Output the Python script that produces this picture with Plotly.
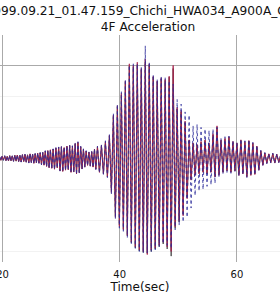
import plotly.graph_objects as go

# Extremum times (s)
t = [19.50, 19.72, 19.93, 20.15, 20.37, 20.58, 20.80, 21.02, 21.23, 21.45,
     21.67, 21.88, 22.10, 22.32, 22.53, 22.75, 22.97, 23.18, 23.40, 23.62,
     23.83, 24.05, 24.27, 24.48, 24.70, 24.92, 25.13, 25.35, 25.57, 25.78,
     26.00, 26.22, 26.43, 26.65, 26.87, 27.08, 27.30, 27.52, 27.73, 27.95,
     28.17, 28.40, 28.64, 28.87, 29.11, 29.34, 29.58, 29.81, 30.05, 30.28,
     30.52, 30.75, 30.99, 31.22, 31.46, 31.69, 31.93, 32.16, 32.40, 32.63,
     32.87, 33.10, 33.34, 33.57, 33.81, 34.04, 34.28, 34.51, 34.75, 34.98,
     35.22, 35.45, 35.69, 35.92,
     36.20, 36.54, 36.88, 37.22, 37.56, 37.90, 38.24, 38.58, 38.92, 39.26,
     39.60, 39.94, 40.28, 40.62, 40.96, 41.30, 41.64, 41.98, 42.32, 42.66,
     43.00, 43.34, 43.68, 44.02, 44.36, 44.70, 45.04, 45.38, 45.72, 46.06,
     46.40, 46.74, 47.08, 47.42, 47.76, 48.10, 48.44, 48.78, 49.12, 49.46,
     49.80, 50.14, 50.48, 50.82, 51.16, 51.50, 51.84, 52.18, 52.52, 52.86,
     53.20, 53.54, 53.88, 54.22, 54.56, 54.90, 55.24, 55.58, 55.92, 56.26,
     56.60, 56.94, 57.28, 57.62, 57.96, 58.30, 58.64, 58.98, 59.32, 59.66,
     60.00, 60.34, 60.68, 61.02, 61.36, 61.70, 62.04, 62.38, 62.72, 63.06,
     63.40, 63.74, 64.08, 64.42, 64.76, 65.10, 65.44, 65.78, 66.12, 66.46,
     66.80, 67.14, 67.48]

# Acceleration extrema (gal) - three overlaid records
acc_blue = [6, -7, 8, -6, 9, -8, 7, -9, 10, -8,
            9, -10, 11, -9, 12, -11, 10, -12, 13, -11,
            14, -13, 12, -15, 16, -14, 15, -17, 16, -15,
            18, -16, 19, -21, 20, -23, 25, -27, 26, -31,
            29, -33, 31, -36, 35, -31, 37, -41, 39, -43,
            36, -39, 41, -37, 43, -46, 41, -45, 50, -52,
            54, -48, 40, -35, 31, -29, 25, -23, 21, -26,
            23, -29, 31, -36,
            40, -47, 44, -52, 57, -62, 78, -115, 145, -195,
            175, -225, 215, -235, 255, -255, 300, -275, 305, -290,
            305, -300, 295, -305, 363, -305, 311, -300, 270, -295,
            255, -285, 265, -275, 260, -280, 250, -290, 240, -230,
            190, -215, 175, -205, 150, -190, 140, -160, 105, -120,
            110, -105, 100, -100, 95, -90, 90, -85, 95, -80,
            100, -60, 65, -50, 70, -45, 72, -48, 58, -42,
            52, -57, 62, -52, 57, -62, 60, -56, 52, -53,
            42, -40, 27, -23, 19, -17, 16, -15, 17, -16,
            15, -14, 13]

acc_red = [5, -6, 7, -5, 8, -7, 6, -8, 9, -7,
           8, -9, 10, -8, 11, -10, 9, -11, 12, -10,
           13, -12, 11, -14, 15, -13, 14, -16, 15, -14,
           17, -15, 18, -20, 19, -22, 24, -26, 25, -30,
           28, -32, 30, -35, 34, -30, 36, -40, 38, -42,
           35, -38, 40, -36, 42, -45, 40, -44, 48, -50,
           52, -46, 38, -34, 30, -28, 24, -22, 20, -25,
           22, -28, 30, -35,
           38, -45, 42, -50, 55, -60, 75, -110, 140, -190,
           170, -220, 210, -230, 250, -250, 305, -270, 300, -285,
           310, -295, 290, -300, 320, -310, 305, -295, 265, -290,
           250, -280, 260, -270, 255, -285, 265, -300, 300, -220,
           165, -200, 155, -185, 120, -130, 60, -70, 50, -55,
           45, -50, 55, -45, 60, -50, 50, -45, 80, -60,
           105, -55, 60, -45, 65, -40, 70, -45, 55, -40,
           50, -55, 60, -50, 55, -60, 58, -55, 50, -52,
           40, -38, 25, -22, 18, -16, 15, -14, 16, -15,
           14, -13, 12]

acc_gray = [5, -6, 6, -6, 8, -7, 7, -8, 9, -8,
            8, -9, 10, -9, 11, -10, 10, -11, 12, -10,
            12, -12, 12, -14, 14, -13, 14, -15, 15, -14,
            16, -15, 18, -19, 19, -21, 23, -25, 25, -29,
            27, -31, 30, -34, 33, -30, 35, -39, 37, -41,
            34, -37, 39, -36, 41, -44, 40, -43, 47, -49,
            50, -45, 37, -33, 29, -27, 23, -22, 20, -24,
            21, -27, 29, -34,
            37, -44, 41, -49, 53, -58, 72, -105, 135, -185,
            165, -215, 205, -228, 245, -248, 298, -272, 296, -288,
            302, -298, 286, -303, 312, -306, 300, -300, 262, -292,
            248, -284, 256, -276, 252, -292, 262, -315, 290, -225,
            160, -205, 150, -180, 115, -125, 58, -68, 48, -52,
            44, -48, 52, -44, 58, -48, 48, -44, 76, -58,
            100, -52, 58, -44, 62, -40, 68, -44, 52, -40,
            48, -52, 58, -48, 52, -58, 56, -52, 48, -50,
            38, -36, 24, -21, 17, -15, 14, -13, 15, -14,
            13, -12, 11]

x_ticks = [20, 40, 60]
y_major = [300]
y_minor = [-300, -200, -100, 0, 100, 200, 300]

FONT = "DejaVu Sans"

fig = go.Figure()
fig.add_trace(go.Scatter(x=t, y=acc_gray, mode="lines",
                         line=dict(color="#555555", width=1), showlegend=False))
fig.add_trace(go.Scatter(x=t, y=acc_red, mode="lines",
                         line=dict(color="#a81c48", width=1), opacity=0.9,
                         showlegend=False))
fig.add_trace(go.Scatter(x=t, y=acc_blue, mode="lines",
                         line=dict(color="#2a2a9a", width=1, dash="dot"),
                         opacity=0.85, showlegend=False))

fig.update_layout(
    width=280, height=300,
    margin=dict(l=0, r=0, t=35, b=38),
    paper_bgcolor="white", plot_bgcolor="white",
    font=dict(family=FONT, size=12, color="#111111"),
    title=dict(text="1999.09.21_01.47.159_Chichi_HWA034_A900A_CH10<br>4F Acceleration",
               x=148 / 280, xanchor="center", y=0.951, yanchor="top",
               font=dict(family=FONT, size=12.2, color="#111111")),
    xaxis=dict(range=[19.57, 67.35], tickmode="array", tickvals=x_ticks,
               showgrid=True, gridcolor="#aaaaaa", gridwidth=1,
               zeroline=False, showline=False, ticks="",
               ticklabeloverflow="allow", ticklabelstandoff=5,
               tickfont=dict(family=FONT, size=10, color="#111111"),
               title=dict(text="Time(sec)", standoff=2,
                          font=dict(family=FONT, size=12)),
               automargin=False),
    yaxis=dict(range=[-334, 398], tickmode="array", tickvals=y_major,
               showgrid=True, gridcolor="#aaaaaa", gridwidth=1,
               showticklabels=False, zeroline=False, showline=False, ticks="",
               minor=dict(tickmode="array", tickvals=y_minor, showgrid=True,
                          gridcolor="#f2f2f2", gridwidth=1, ticks=""),
               automargin=False),
)

fig.write_html("out.html", config={"displayModeBar": False})
